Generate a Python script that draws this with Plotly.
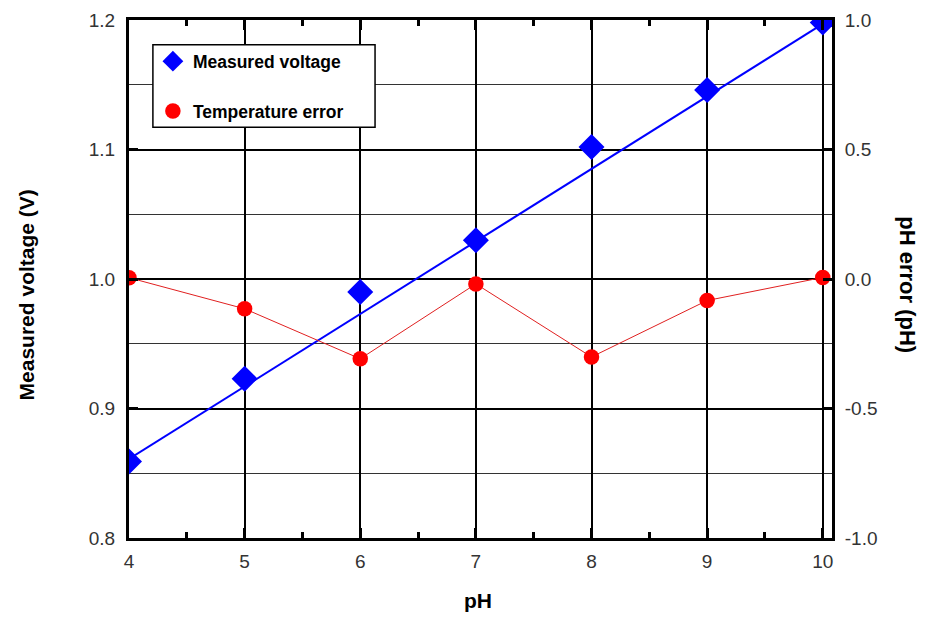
import plotly.graph_objects as go

ph = [4, 5, 6, 7, 8, 9, 10]
voltage = [0.859, 0.923, 0.990, 1.030, 1.102, 1.146, 1.198]
ph_error = [0.005, -0.115, -0.308, -0.019, -0.301, -0.083, 0.006]
fit_ph = [4, 10]
fit_voltage = [0.861, 1.197]
err_ticks = [-1.0, -0.5, 0.0, 0.5, 1.0]
err_ticktext = ["-1.0", "-0.5", "0.0", "0.5", "1.0"]

FONT = "Liberation Sans"

fig = go.Figure()

# fitted line for voltage
fig.add_trace(go.Scatter(x=fit_ph, y=fit_voltage, mode="lines",
                         line=dict(color="#0000ff", width=2),
                         showlegend=False, hoverinfo="skip"))
# temperature error connecting line
fig.add_trace(go.Scatter(x=ph, y=ph_error, mode="lines", yaxis="y2",
                         line=dict(color="#e02020", width=1),
                         showlegend=False, hoverinfo="skip"))
fig.add_trace(go.Scatter(x=ph, y=voltage, mode="markers", name="Measured voltage",
                         marker=dict(symbol="diamond", size=20, color="#0000ff"),
                         legendgroup="a"))
fig.add_trace(go.Scatter(x=ph, y=ph_error, mode="markers", name="Temperature error",
                         yaxis="y2",
                         marker=dict(symbol="circle", size=15.5, color="#ff0000"),
                         legendgroup="b"))

axis_common = dict(showline=True, linecolor="black", linewidth=3,
                   ticks="inside", tickcolor="black", automargin=False,
                   tickfont=dict(family=FONT, size=19, color="#333333"))

fig.update_layout(
    width=923, height=614,
    margin=dict(l=121, r=99, t=12, b=84),
    plot_bgcolor="white", paper_bgcolor="white",
    font=dict(family=FONT),
    xaxis=dict(range=[4, 10.08], tickvals=ph, ticktext=[str(v) for v in ph],
               showgrid=True, gridcolor="black", gridwidth=2,
               zeroline=False, mirror="ticks", ticklen=10, tickwidth=3,
               minor=dict(dtick=0.5, tick0=4, ticks="inside", ticklen=6,
                          tickwidth=3, tickcolor="black", showgrid=False),
               ticklabelstandoff=4,
               **axis_common),
    yaxis=dict(range=[0.8, 1.2], dtick=0.1, tickformat=".1f",
               showgrid=True, gridcolor="black", gridwidth=2, zeroline=False,
               ticklen=9, tickwidth=3, ticklabelstandoff=7,
               minor=dict(dtick=0.05, showgrid=True, gridcolor="#333333",
                          gridwidth=1, ticks=""),
               **axis_common),
    yaxis2=dict(range=[-1, 1], tickvals=err_ticks, ticktext=err_ticktext,
                overlaying="y", side="right", showgrid=False, zeroline=False,
                ticklen=9, tickwidth=3, ticklabelstandoff=6,
                **axis_common),
    legend=dict(x=0.034, y=0.955, xanchor="left", yanchor="top",
                bgcolor="rgba(0,0,0,0)", borderwidth=0,
                font=dict(family=FONT, size=17.5, color="black", weight="bold"),
                traceorder="grouped", tracegroupgap=24),
    shapes=[dict(type="rect", xref="paper", yref="paper",
                 x0=0.034, x1=0.350, y0=0.793, y1=0.952,
                 line=dict(color="black", width=1.5), fillcolor="white",
                 layer="above")],
    annotations=[
        dict(text="Measured voltage (V)", xref="paper", yref="paper",
             x=-0.146, y=0.469, xanchor="center", yanchor="middle",
             textangle=-90, showarrow=False,
             font=dict(family=FONT, size=21, color="black", weight="bold")),
        dict(text="pH error (pH)", xref="paper", yref="paper",
             x=1.108, y=0.488, xanchor="center", yanchor="middle",
             textangle=90, showarrow=False,
             font=dict(family=FONT, size=22, color="black", weight="bold")),
        dict(text="pH", xref="paper", yref="paper",
             x=0.496, y=-0.12, xanchor="center", yanchor="middle",
             showarrow=False,
             font=dict(family=FONT, size=21, color="black", weight="bold")),
    ],
)

fig.write_html("out.html")
